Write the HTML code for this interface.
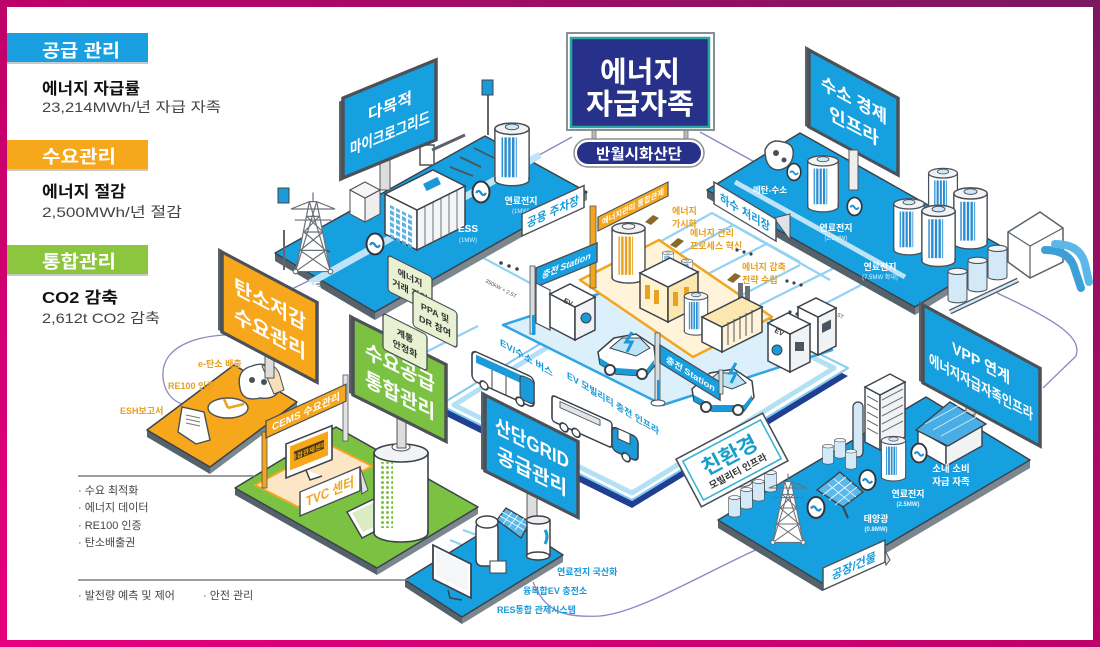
<!DOCTYPE html>
<html><head><meta charset="utf-8"><style>
html,body{margin:0;padding:0;width:1100px;height:647px;overflow:hidden;background:#fff}
svg{display:block}
text{font-family:"Liberation Sans","Noto Sans CJK KR",sans-serif}
</style></head><body>
<svg width="1100" height="647" viewBox="0 0 1100 647" xmlns="http://www.w3.org/2000/svg">
<defs>
<linearGradient id="fr" x1="0" y1="1" x2="1" y2="0">
<stop offset="0" stop-color="#e6007e"/><stop offset="0.45" stop-color="#c4006a"/><stop offset="1" stop-color="#7b1862"/>
</linearGradient>
<pattern id="sb" width="4" height="4" patternUnits="userSpaceOnUse"><rect width="2.6" height="4" fill="#2a8dd0"/></pattern>
<pattern id="sy" width="4" height="4" patternUnits="userSpaceOnUse"><rect width="2.6" height="4" fill="#e9a21e"/></pattern>
<pattern id="sg" width="5" height="5" patternUnits="userSpaceOnUse"><circle cx="2.5" cy="2.5" r="1.5" fill="#7cc242"/></pattern>
<pattern id="win" width="6" height="6" patternUnits="userSpaceOnUse"><rect width="4" height="4" fill="#4aa8dc"/></pattern>
<symbol id="tower" viewBox="0 0 50 90" overflow="visible">
<g fill="none" stroke="#6b7177" stroke-width="1.3">
<polygon points="6,88 21,12 29,12 44,88" fill="#fff"/>
<path d="M21,12 L44,88 M29,12 L6,88 M18,28 L32,28 M15,45 L36,45 M11,65 L39,65 M18,28 L36,45 M32,28 L15,45 M15,45 L39,65 M36,45 L11,65 M11,65 L44,88 M39,65 L6,88"/>
<path d="M1,20 L49,20 M5,32 L45,32 M1,20 L21,12 M49,20 L29,12 M25,2 L25,12"/>
<circle cx="6" cy="88" r="2.5" fill="#fff"/><circle cx="44" cy="88" r="2.5" fill="#fff"/>
</g></symbol>
<symbol id="tankB" viewBox="0 0 40 70" overflow="visible">
<rect x="2" y="9" width="36" height="54" fill="#fff" stroke="#4a5057" stroke-width="1.6"/>
<ellipse cx="20" cy="63" rx="18" ry="6" fill="#fff" stroke="#4a5057" stroke-width="1.6"/>
<rect x="3" y="10" width="34" height="53" fill="#fff"/>
<rect x="9" y="18" width="16" height="42" fill="url(#sb)"/>
<ellipse cx="20" cy="9" rx="18" ry="6" fill="#f1f3f4" stroke="#4a5057" stroke-width="1.6"/>
<ellipse cx="20" cy="7" rx="7" ry="3" fill="#cfe8f7" stroke="#4a5057"/>
</symbol>
<symbol id="tankY" viewBox="0 0 40 70" overflow="visible">
<rect x="2" y="9" width="36" height="54" fill="#fff" stroke="#4a5057" stroke-width="1.6"/>
<ellipse cx="20" cy="63" rx="18" ry="6" fill="#fff" stroke="#4a5057" stroke-width="1.6"/>
<rect x="3" y="10" width="34" height="53" fill="#fff"/>
<rect x="9" y="18" width="16" height="42" fill="url(#sy)"/>
<ellipse cx="20" cy="9" rx="18" ry="6" fill="#f1f3f4" stroke="#4a5057" stroke-width="1.6"/>
<ellipse cx="20" cy="7" rx="7" ry="3" fill="#f4f4f4" stroke="#4a5057"/>
</symbol>
<symbol id="tankL" viewBox="0 0 40 70" overflow="visible">
<rect x="2" y="9" width="36" height="54" fill="#d3e9f7" stroke="#4a5057" stroke-width="2"/>
<ellipse cx="20" cy="63" rx="18" ry="6" fill="#d3e9f7" stroke="#4a5057" stroke-width="2"/>
<rect x="3" y="10" width="34" height="53" fill="#d3e9f7"/>
<ellipse cx="20" cy="9" rx="18" ry="6" fill="#eef6fb" stroke="#4a5057" stroke-width="2"/>
</symbol>
<symbol id="conv" viewBox="0 0 20 24" overflow="visible">
<ellipse cx="10" cy="12" rx="8.5" ry="10.5" fill="#fff" stroke="#2f353b" stroke-width="2"/>
<path d="M5,13 q2.5,-4 5,0 t5,0" stroke="#1a8fd0" stroke-width="2.2" fill="none"/>
</symbol>
</defs>

<!-- frame -->
<rect width="1100" height="647" fill="url(#fr)"/>
<rect x="7" y="7" width="1086" height="633" fill="#fff"/>

<!-- purple connectors -->
<g fill="none" stroke="#8c86c4" stroke-width="1.3">
<path d="M262,336 C200,330 160,345 163,378 C165,395 175,402 183,404"/>
<path d="M530,160 L572,137"/>
<path d="M700,132 L760,165"/>
<path d="M997,293 C1060,322 1082,338 1076,356 L1043,388"/>
<path d="M533,582 C545,610 560,618 600,616 C640,612 700,575 760,548"/>
<path d="M290,290 L330,270"/>
</g>
<!-- light blue connectors -->
<g fill="none" stroke="#92d2f2" stroke-width="2.2">
<path d="M437,233 L530,283"/>
<path d="M463,530 L552,562"/>
<path d="M450,540 L535,575"/>
<path d="M420,355 L478,326"/>
<path d="M645,250 L712,213 L800,262"/>
<path d="M665,262 L733,225"/>
<path d="M700,278 L768,243"/>
<path d="M733,225 L830,280"/>
<path d="M742,295 L800,265"/>
<path d="M760,305 L860,255"/>
<path d="M790,322 L905,262"/>
<path d="M700,300 L800,355"/>
</g>

<!-- HUB -->
<polygon points="440,413 632,508 848,376 656,281" fill="#203f91"/>
<polygon points="440,405 632,500 848,368 656,273" fill="#fff" stroke="#7fcaf0" stroke-width="2" stroke-linejoin="round"/>
<polygon points="454,405 632,493 834,368 656,280" fill="none" stroke="#b3e0f5" stroke-width="5" stroke-linejoin="round"/>
<polygon points="503,325 663,405 832,350 672,270" fill="#dcf0fb" stroke="#2fa6e2" stroke-width="2.5" stroke-linejoin="round"/>
<polygon points="580,280 693,357 772,317 659,240" fill="#fff4da" stroke="#f2a51e" stroke-width="2.5" stroke-linejoin="round"/>

<!-- MICROGRID platform -->
<polygon points="275,253 375,312 375,320 275,261" fill="#56626b"/>
<polygon points="375,312 587,192 587,200 375,320" fill="#7b868e"/>
<polygon points="275,253 375,312 587,192 485,136" fill="#17a0e0" stroke="#3b4249" stroke-width="1.5" stroke-linejoin="round"/>
<path d="M310,283 L540,155" stroke="#bfe4f7" stroke-width="7"/>
<g stroke="#4a5560" stroke-width="1.8">
<path d="M303,250 L323,259"/><path d="M310,242 L330,252"/><path d="M450,167 L473,176"/><path d="M460,157 L481,167"/><path d="M474,148 L494,158"/>
</g>
<!-- small P signs -->
<rect x="283" y="230" width="2" height="40" fill="#666"/>
<rect x="278" y="188" width="11" height="15" fill="#1a9ad8" stroke="#444"/>
<rect x="487" y="95" width="2" height="40" fill="#666"/>
<rect x="482" y="80" width="11" height="15" fill="#1a9ad8" stroke="#444"/>
<!-- gate -->
<rect x="420" y="145" width="14" height="20" fill="#fff" stroke="#4a5057" stroke-width="1.5"/>
<path d="M432,150 L465,135" stroke="#5a6168" stroke-width="3"/>
<!-- microgrid sign -->
<rect x="380" y="160" width="10" height="30" fill="#ddd" stroke="#555"/>
<g transform="matrix(1 -0.41 0 1 343 98)">
<rect x="-4" y="2" width="4" height="80" fill="#5a6168"/>
<rect x="0" y="0" width="93" height="80" fill="#17a0e0" stroke="#4b5157" stroke-width="3.5"/>
<text x="47" y="33" font-size="16" font-weight="bold" fill="#fff" text-anchor="middle">다목적</text>
<text x="47" y="60" font-size="16" font-weight="bold" fill="#fff" text-anchor="middle" textLength="80" lengthAdjust="spacingAndGlyphs">마이크로그리드</text>
</g>
<!-- kiosk -->
<polygon points="350,190 365,198 365,222 350,214" fill="#fff" stroke="#4a5057"/>
<polygon points="365,198 380,190 380,214 365,222" fill="#eee" stroke="#4a5057"/>
<polygon points="350,190 365,182 380,190 365,198" fill="#f6f6f6" stroke="#4a5057"/>
<!-- ESS building -->
<polygon points="385,234 417,250 417,210 385,194" fill="#fff" stroke="#3b4249" stroke-width="1.5"/>
<rect x="389" y="205" width="24" height="34" fill="url(#win)" transform="matrix(1 0.5 0 1 0 0) translate(0 -195)" opacity="0.9"/>
<polygon points="417,250 465,226 465,186 417,210" fill="#f4f5f6" stroke="#3b4249" stroke-width="1.5"/>
<g stroke="#6b7177" stroke-width="1"><path d="M425,206 L425,245 M433,202 L433,241 M441,198 L441,237 M449,194 L449,233 M457,190 L457,229"/></g>
<polygon points="385,194 417,210 465,186 433,170" fill="#fff" stroke="#3b4249" stroke-width="1.5"/>
<rect x="424" y="180" width="16" height="8" fill="#1a9ad8" transform="rotate(-26 432 184)"/>
<!-- tower -->
<use href="#tower" x="290" y="188" width="46" height="88"/>
<use href="#conv" x="365" y="232" width="20" height="24"/>
<use href="#conv" x="471" y="180" width="20" height="24"/>
<use href="#tankB" x="493" y="120" width="38" height="67"/>
<text x="313" y="290" font-size="9" fill="#fff" text-anchor="middle" font-weight="bold">계통</text>
<text x="468" y="232" font-size="10" fill="#fff" text-anchor="middle" font-weight="bold">ESS</text>
<text x="468" y="242" font-size="6" fill="#e0f2fb" text-anchor="middle">(1MW)</text>
<text x="521" y="204" font-size="9" fill="#fff" text-anchor="middle" font-weight="bold">연료전지</text>
<text x="521" y="213" font-size="6" fill="#e0f2fb" text-anchor="middle">(1MW)</text>
<!-- 공용 주차장 tent -->
<g transform="matrix(1 -0.46 0 1 522 214)">
<rect x="0" y="0" width="62" height="22" fill="#fff" stroke="#4a5057" stroke-width="1.5"/>
<text x="31" y="16" font-size="12" font-weight="bold" fill="#1a9ad8" text-anchor="middle" textLength="52" lengthAdjust="spacingAndGlyphs">공용 주차장</text>
</g>

<!-- HYDROGEN platform -->
<polygon points="707,190 915,307 915,315 707,198" fill="#56626b"/>
<polygon points="915,307 1008,250 1008,258 915,315" fill="#7b868e"/>
<polygon points="707,190 915,307 1008,250 800,133" fill="#17a0e0" stroke="#3b4249" stroke-width="1.5" stroke-linejoin="round"/>
<path d="M735,182 L905,277" stroke="#bfe4f7" stroke-width="5"/>
<!-- hydrogen sign -->
<g transform="matrix(1 0.54 0 1 809 50)">
<rect x="-4" y="-2" width="4" height="80" fill="#5a6168"/>
<rect x="0" y="0" width="89" height="77" fill="#17a0e0" stroke="#4b5157" stroke-width="3.5"/>
<text x="45" y="32" font-size="18" font-weight="bold" fill="#fff" text-anchor="middle" textLength="66" lengthAdjust="spacingAndGlyphs">수소 경제</text>
<text x="45" y="58" font-size="18" font-weight="bold" fill="#fff" text-anchor="middle">인프라</text>
</g>
<rect x="849" y="150" width="9" height="40" fill="#eee" stroke="#555"/>
<!-- duck icon -->
<path d="M765,150 q5,-12 18,-8 q12,2 10,14 q-2,12 -14,14 q-14,0 -14,-20z" fill="#fff" stroke="#4a5057" stroke-width="1.5"/>
<circle cx="776" cy="153" r="3" fill="#4a5057"/><circle cx="784" cy="160" r="2.5" fill="#4a5057"/>
<use href="#conv" x="786" y="162" width="16" height="20"/>
<use href="#tankB" x="806" y="150" width="34" height="66"/>
<use href="#conv" x="846" y="196" width="17" height="21"/>
<!-- big tanks -->
<use href="#tankB" x="925" y="166" width="36" height="56"/>
<use href="#tankB" x="892" y="184" width="34" height="84"/>
<use href="#tankB" x="952" y="181" width="37" height="73"/>
<use href="#tankB" x="920" y="199" width="37" height="72"/>
<!-- small tanks rack -->
<path d="M950,312 L1018,280" stroke="#4a5057" stroke-width="5"/>
<path d="M950,312 L1018,280" stroke="#d3e9f7" stroke-width="2.5"/>
<use href="#tankL" x="987" y="237" width="21" height="50"/>
<use href="#tankL" x="967" y="249" width="21" height="50"/>
<use href="#tankL" x="947" y="260" width="21" height="50"/>
<!-- pipe box -->
<polygon points="1008,232 1040,212 1063,228 1063,262 1030,278 1008,262" fill="#fff" stroke="#5a6168" stroke-width="1.5"/>
<path d="M1008,232 L1030,246 L1063,228 M1030,246 L1030,278" stroke="#5a6168" fill="none" stroke-width="1.2"/>
<path d="M1045,250 q25,0 30,20 l6,18" stroke="#3c9fd8" stroke-width="8" fill="none" stroke-linecap="round"/>
<path d="M1055,244 q25,0 30,20 l4,18" stroke="#5cb8e8" stroke-width="8" fill="none" stroke-linecap="round"/>
<text x="770" y="193" font-size="8.5" fill="#fff" text-anchor="middle" font-weight="bold">메탄-수소</text>
<text x="836" y="231" font-size="9" fill="#fff" text-anchor="middle" font-weight="bold">연료전지</text>
<text x="836" y="240" font-size="6" fill="#e0f2fb" text-anchor="middle">(2.5MW)</text>
<text x="880" y="270" font-size="9" fill="#fff" text-anchor="middle" font-weight="bold">연료전지</text>
<text x="880" y="279" font-size="6" fill="#e0f2fb" text-anchor="middle">(7.5MW 확대)</text>
<!-- 하수 처리장 tent -->
<polygon points="774,218 790,214 790,240" fill="#dfe3e6" stroke="#4a5057"/>
<g transform="matrix(1 0.6 0 1 714 182)">
<rect x="0" y="0" width="62" height="22" fill="#fff" stroke="#4a5057" stroke-width="1.5"/>
<text x="31" y="16" font-size="12" font-weight="bold" fill="#1a9ad8" text-anchor="middle" textLength="50" lengthAdjust="spacingAndGlyphs">하수 처리장</text>
</g>

<!-- NAVY SIGN -->
<rect x="592" y="125" width="4" height="24" fill="#bbb" stroke="#777" stroke-width="0.8"/>
<rect x="684" y="125" width="4" height="24" fill="#bbb" stroke="#777" stroke-width="0.8"/>
<rect x="567" y="33" width="147" height="97" fill="#fff" stroke="#8a8f94" stroke-width="2"/>
<rect x="571" y="38" width="138" height="89" fill="#27318a" stroke="#2aa5a0" stroke-width="2.5"/>
<text x="640" y="82" font-size="29" font-weight="bold" fill="#fff" text-anchor="middle" textLength="80" lengthAdjust="spacingAndGlyphs">에너지</text>
<text x="640" y="114" font-size="29" font-weight="bold" fill="#fff" text-anchor="middle" textLength="108" lengthAdjust="spacingAndGlyphs">자급자족</text>
<rect x="574" y="139" width="130" height="28" rx="14" fill="#fff" stroke="#8a8f94" stroke-width="1.5"/>
<rect x="577" y="142" width="124" height="22" rx="11" fill="#27318a"/>
<text x="639" y="159" font-size="15" font-weight="bold" fill="#fff" text-anchor="middle" textLength="86" lengthAdjust="spacingAndGlyphs">반월시화산단</text>

<!-- center grid labels -->
<g font-size="9" font-weight="bold" fill="#e8a020">
<text x="672" y="214">에너지</text><text x="672" y="227">가시화</text>
<text x="690" y="236">에너지 관리</text><text x="690" y="249">프로세스 혁신</text>
<text x="742" y="270">에너지 감축</text><text x="742" y="283">전략 수립</text>
</g>
<g fill="#8a6a2a">
<path d="M645,222 l8,-7 l6,3 l-8,7z"/><path d="M670,245 l8,-7 l6,3 l-8,7z"/><path d="M727,280 l8,-7 l6,3 l-8,7z"/>
</g>
<g fill="#3b4249">
<circle cx="501" cy="263" r="1.8"/><circle cx="509" cy="266" r="1.8"/><circle cx="517" cy="269" r="1.8"/>
<circle cx="737" cy="250" r="1.6"/><circle cx="744" cy="252" r="1.6"/><circle cx="751" cy="254" r="1.6"/>
<circle cx="787" cy="281" r="1.6"/><circle cx="794" cy="283" r="1.6"/><circle cx="801" cy="285" r="1.6"/>
<circle cx="790" cy="312" r="1.6"/><circle cx="797" cy="314" r="1.6"/><circle cx="804" cy="316" r="1.6"/>
</g>
<text x="485" y="282" font-size="5.5" fill="#555" transform="rotate(28 485 282)">350kW + 2.5T</text>
<text x="812" y="303" font-size="5.5" fill="#555" transform="rotate(28 812 303)">550kW + 5.5T</text>

<!-- hub objects -->
<!-- orange banner + post -->
<rect x="590" y="206" width="6" height="82" fill="#f2a51e" stroke="#555" stroke-width="0.8"/>
<g transform="matrix(1 -0.5 0 1 598 217)">
<rect x="0" y="0" width="70" height="14" fill="#f6a71b" stroke="#4a5057" stroke-width="1.2"/>
<text x="35" y="10" font-size="8" font-weight="bold" fill="#fff" text-anchor="middle" textLength="62" lengthAdjust="spacingAndGlyphs">에너지관리 통합관제</text>
</g>
<use href="#tankY" x="610" y="220" width="37" height="64"/>
<!-- box units -->
<use href="#tankB" x="658" y="250" width="20" height="22"/>
<use href="#tankB" x="677" y="258" width="20" height="22"/>
<polygon points="640,308 668,322 668,287 640,273" fill="#fff3d2" stroke="#3b4249" stroke-width="1.5"/>
<polygon points="668,322 698,307 698,272 668,287" fill="#fde7b0" stroke="#3b4249" stroke-width="1.5"/>
<polygon points="640,273 668,287 698,272 670,258" fill="#fff" stroke="#3b4249" stroke-width="1.5"/>
<g fill="#e9a21e"><rect x="645" y="285" width="5" height="14"/><rect x="654" y="290" width="5" height="14"/><rect x="673" y="292" width="5" height="14"/><rect x="684" y="287" width="5" height="14"/></g>
<use href="#tankB" x="683" y="285" width="26" height="56"/>
<rect x="738" y="283" width="5" height="28" fill="#6b7177"/><rect x="745" y="286" width="5" height="28" fill="#6b7177"/>
<polygon points="702,342 722,352 722,327 702,317" fill="#fff" stroke="#3b4249" stroke-width="1.5"/>
<polygon points="722,352 762,332 762,307 722,327" fill="#fff4da" stroke="#3b4249" stroke-width="1.5"/>
<polygon points="702,317 722,327 762,307 742,297" fill="#fde7b0" stroke="#3b4249" stroke-width="1.5"/>
<g stroke="#555" stroke-width="1"><path d="M728,322 L728,345 M734,319 L734,342 M740,316 L740,339 M746,313 L746,336 M752,310 L752,333"/></g>
<!-- station 1 -->
<rect x="530" y="266" width="5" height="68" fill="#d8dde0" stroke="#4a5057" stroke-width="0.8"/>
<rect x="532" y="315" width="3" height="20" fill="#1a9ad8"/>
<g transform="matrix(1 -0.41 0 1 536 268)">
<rect x="0" y="0" width="61" height="19" fill="#17a0e0" stroke="#4a5057" stroke-width="1.5"/>
<text x="30" y="13" font-size="9" font-weight="bold" fill="#fff" text-anchor="middle" font-style="italic">충전 Station</text>
</g>
<polygon points="536,283 550,290 550,330 536,323" fill="#fff" stroke="#4a5057" stroke-width="1.2"/>
<polygon points="550,327 575,340 575,307 550,294" fill="#fff" stroke="#3b4249" stroke-width="1.5"/>
<polygon points="575,340 595,330 595,297 575,307" fill="#f0f2f3" stroke="#3b4249" stroke-width="1.5"/>
<polygon points="550,294 575,307 595,297 570,284" fill="#fff" stroke="#3b4249" stroke-width="1.5"/>
<circle cx="586" cy="318" r="5" fill="#1a9ad8" stroke="#3b4249"/>
<text x="563" y="302" font-size="7" font-weight="bold" fill="#333" transform="rotate(27 563 302)">EV</text>
<!-- car 1 -->
<g transform="translate(596,324)">
<path d="M2,28 L18,14 L40,10 L58,22 L60,40 L50,52 L20,50 L4,40 Z" fill="#fff" stroke="#3b4249" stroke-width="1.5"/>
<path d="M4,34 L20,44 L50,46 L58,36 L58,42 L50,52 L20,50 L4,40 Z" fill="#1a9ad8"/>
<path d="M14,24 L26,14 L44,14 L54,24 L40,32 Z" fill="#bfe3f7" stroke="#3b4249"/>
<path d="M36,8 l-6,10 l6,0 l-5,10" stroke="#1a9ad8" stroke-width="3" fill="none"/>
<circle cx="14" cy="46" r="5" fill="#fff" stroke="#3b4249" stroke-width="2"/>
<circle cx="46" cy="50" r="5" fill="#fff" stroke="#3b4249" stroke-width="2"/>
</g>
<!-- EV cubes right -->
<polygon points="798,345 818,355 818,317 798,307" fill="#fff" stroke="#3b4249" stroke-width="1.5"/>
<polygon points="818,355 836,346 836,308 818,317" fill="#f0f2f3" stroke="#3b4249" stroke-width="1.5"/>
<polygon points="798,307 818,317 836,308 816,298" fill="#fff" stroke="#3b4249" stroke-width="1.5"/>
<rect x="822" y="322" width="9" height="9" fill="#4a5560" transform="skewY(-26)" transform-origin="826 326"/>
<polygon points="768,361 790,372 790,334 768,323" fill="#fff" stroke="#3b4249" stroke-width="1.5"/>
<polygon points="790,372 810,362 810,324 790,334" fill="#f0f2f3" stroke="#3b4249" stroke-width="1.5"/>
<polygon points="768,323 790,334 810,324 788,313" fill="#fff" stroke="#3b4249" stroke-width="1.5"/>
<circle cx="777" cy="350" r="5" fill="#1a9ad8" stroke="#3b4249"/>
<rect x="795" y="342" width="9" height="9" fill="#4a5560"/>
<text x="774" y="332" font-size="7" font-weight="bold" fill="#333" transform="rotate(27 774 332)">EV</text>
<!-- station 2 -->
<rect x="655" y="333" width="5" height="70" fill="#d8dde0" stroke="#4a5057" stroke-width="0.8"/>
<rect x="657" y="380" width="3" height="22" fill="#1a9ad8"/>
<ellipse cx="658" cy="403" rx="7" ry="3" fill="#fff" stroke="#4a5057"/>
<!-- car 2 -->
<g transform="translate(690,357)">
<path d="M2,32 L20,16 L44,12 L62,24 L64,40 L54,54 L22,54 L4,44 Z" fill="#fff" stroke="#3b4249" stroke-width="1.5"/>
<path d="M4,38 L22,48 L54,48 L62,38 L62,44 L54,54 L22,54 L4,44 Z" fill="#1a9ad8"/>
<path d="M18,24 L28,16 L46,16 L56,26 L42,32 Z" fill="#bfe3f7" stroke="#3b4249"/>
<path d="M46,6 l-6,10 l6,0 l-5,10" stroke="#1a9ad8" stroke-width="3" fill="none"/>
<circle cx="16" cy="50" r="5" fill="#fff" stroke="#3b4249" stroke-width="2"/>
<circle cx="48" cy="53" r="5" fill="#fff" stroke="#3b4249" stroke-width="2"/>
</g>
<g transform="matrix(1 0.62 0 1 660 345)">
<rect x="0" y="0" width="60" height="18" fill="#17a0e0" stroke="#4a5057" stroke-width="1.5"/>
<text x="30" y="13" font-size="9" font-weight="bold" fill="#fff" text-anchor="middle" font-style="italic">충전 Station</text>
</g>
<rect x="719" y="370" width="4" height="24" fill="#d8dde0" stroke="#4a5057" stroke-width="0.8"/>
<!-- bus -->
<g transform="matrix(1 0.45 0 1 472 350)">
<rect x="0" y="0" width="62" height="30" rx="5" fill="#fff" stroke="#3b4249" stroke-width="1.6"/>
<rect x="4" y="3" width="54" height="8" fill="#1a9ad8"/>
<rect x="48" y="3" width="14" height="24" rx="4" fill="#1a9ad8" stroke="#3b4249"/>
<path d="M20,11 L20,30 M34,11 L34,30" stroke="#3b4249" stroke-width="1"/>
<circle cx="12" cy="30" r="4" fill="#fff" stroke="#3b4249" stroke-width="1.6"/>
<circle cx="48" cy="30" r="4" fill="#fff" stroke="#3b4249" stroke-width="1.6"/>
</g>
<text x="500" y="345" font-size="9.5" font-weight="bold" fill="#1a9ad8" transform="matrix(1 0.6 0 1 0 0) translate(0 -300)">EV/수소 버스</text>
<!-- truck -->
<g transform="matrix(1 0.45 0 1 552 395)">
<rect x="0" y="0" width="60" height="26" rx="3" fill="#fff" stroke="#3b4249" stroke-width="1.6"/>
<rect x="8" y="3" width="40" height="6" fill="#e0e4e7" stroke="#3b4249" stroke-width="0.8"/>
<rect x="60" y="4" width="26" height="24" rx="5" fill="#1a9ad8" stroke="#3b4249" stroke-width="1.6"/>
<rect x="66" y="4" width="12" height="10" fill="#fff" stroke="#3b4249"/>
<circle cx="12" cy="27" r="4" fill="#fff" stroke="#3b4249" stroke-width="1.6"/>
<circle cx="24" cy="27" r="4" fill="#fff" stroke="#3b4249" stroke-width="1.6"/>
<circle cx="74" cy="29" r="4" fill="#fff" stroke="#3b4249" stroke-width="1.6"/>
</g>
<g transform="matrix(1 0.62 0 1 567 378)">
<text x="0" y="0" font-size="9.5" font-weight="bold" fill="#1a9ad8" textLength="92" lengthAdjust="spacingAndGlyphs">EV 모빌리티 충전 인프라</text>
</g>

<!-- ORANGE platform -->
<polygon points="147,430 210,467 210,474 147,437" fill="#56626b"/>
<polygon points="210,467 297,402 297,409 210,474" fill="#7b868e"/>
<polygon points="147,430 210,467 297,402 234,365" fill="#f6a71b" stroke="#3b4249" stroke-width="1.5" stroke-linejoin="round"/>
<polygon points="178,432 182,407 204,412 210,440 196,444" fill="#fff" stroke="#4a5057" stroke-width="1.4"/>
<g stroke="#777" stroke-width="1"><path d="M186,415 L200,418 M186,419 L200,422 M186,423 L200,426"/></g>
<ellipse cx="228" cy="408" rx="20" ry="10" fill="#fff" stroke="#4a5057" stroke-width="1.4"/>
<path d="M228,408 L244,404 M228,408 L224,399" stroke="#e9a21e" stroke-width="2.5"/>
<path d="M240,388 q-4,-18 12,-22 q16,-6 22,8 q10,4 6,16 q-6,10 -20,8 q-18,4 -20,-10z" fill="#fff" stroke="#4a5057" stroke-width="1.4"/>
<path d="M262,366 q14,-4 18,10 l4,14 l-10,4z" fill="#f7dfb8" stroke="#4a5057"/>
<circle cx="252" cy="380" r="3" fill="#4a5057"/><circle cx="264" cy="382" r="3" fill="#4a5057"/>
<g font-size="9" font-weight="bold" fill="#e8a020">
<text x="198" y="367">e-탄소 배출</text>
<text x="168" y="389">RE100 인증</text>
<text x="120" y="414">ESH보고서</text>
</g>
<!-- orange sign -->
<rect x="265" y="350" width="9" height="28" fill="#ddd" stroke="#555"/>
<g transform="matrix(1 0.53 0 1 222 252)">
<rect x="-4" y="-2" width="4" height="82" fill="#5a6168"/>
<rect x="0" y="0" width="95" height="80" fill="#f6a71b" stroke="#4b5157" stroke-width="3.5"/>
<text x="48" y="34" font-size="20" font-weight="bold" fill="#fff" text-anchor="middle" textLength="72" lengthAdjust="spacingAndGlyphs">탄소저감</text>
<text x="48" y="63" font-size="20" font-weight="bold" fill="#fff" text-anchor="middle" textLength="72" lengthAdjust="spacingAndGlyphs">수요관리</text>
</g>

<!-- GREEN platform -->
<polygon points="235,488 377,568 377,575 235,495" fill="#56626b"/>
<polygon points="377,568 478,507 478,514 377,575" fill="#7b868e"/>
<polygon points="235,488 377,568 478,507 336,427" fill="#7cc242" stroke="#3b4249" stroke-width="1.5" stroke-linejoin="round"/>
<polygon points="255,485 330,445 372,466 298,507" fill="#fde6c6" stroke="#f2a51e" stroke-width="2"/>
<!-- CEMS -->
<rect x="262" y="432" width="5" height="56" fill="#f2a51e" stroke="#555" stroke-width="0.8"/>
<rect x="343" y="375" width="5" height="66" fill="#dfe3e6" stroke="#555" stroke-width="0.8"/>
<g transform="matrix(1 -0.46 0 1 266 421)">
<rect x="0" y="0" width="80" height="17" fill="#f6a71b" stroke="#4a5057" stroke-width="1.3"/>
<text x="40" y="12.5" font-size="10" font-weight="bold" fill="#fff" text-anchor="middle" textLength="68" lengthAdjust="spacingAndGlyphs">CEMS 수요관리</text>
</g>
<!-- monitor -->
<g transform="matrix(1 -0.4 0 1 286 444)">
<rect x="0" y="0" width="46" height="34" fill="#fff" stroke="#3b4249" stroke-width="1.6"/>
<rect x="4" y="4" width="38" height="24" fill="#f6a71b"/>
<rect x="8" y="11" width="30" height="9" fill="#4a3a10"/>
<text x="23" y="18.5" font-size="6.5" font-weight="bold" fill="#f6a71b" text-anchor="middle">통합관제센터</text>
</g>
<path d="M306,470 l4,10 l12,-4" stroke="#3b4249" stroke-width="1.5" fill="#fff"/>
<!-- TVC tent -->
<polygon points="360,467 368,490 362,494" fill="#dfe3e6" stroke="#4a5057"/>
<g transform="matrix(1 -0.42 0 1 300 492)">
<rect x="0" y="0" width="60" height="24" fill="#fff" stroke="#4a5057" stroke-width="1.5"/>
<text x="30" y="17" font-size="14" font-weight="bold" fill="#f2a51e" text-anchor="middle" textLength="48" lengthAdjust="spacingAndGlyphs">TVC 센터</text>
</g>
<!-- tablet -->
<polygon points="347,512 378,497 393,522 362,538" fill="#fff" stroke="#3b4249" stroke-width="1.5"/>
<polygon points="352,513 377,501 388,520 363,532" fill="#d9ecc2"/>
<!-- big cylinder -->
<rect x="374" y="453" width="54" height="80" fill="#fff" stroke="#3b4249" stroke-width="1.6"/>
<ellipse cx="401" cy="533" rx="27" ry="9" fill="#fff" stroke="#3b4249" stroke-width="1.6"/>
<rect x="375" y="454" width="52" height="79" fill="#fff"/>
<rect x="379" y="462" width="14" height="66" fill="url(#sg)"/>
<ellipse cx="401" cy="453" rx="27" ry="9" fill="#f1f3f4" stroke="#3b4249" stroke-width="1.6"/>
<ellipse cx="401" cy="447" rx="9" ry="4" fill="#fff" stroke="#3b4249"/>
<rect x="397" y="418" width="9" height="30" fill="#ddd" stroke="#555"/>
<!-- green sign -->
<g transform="matrix(1 0.5 0 1 353 318)">
<rect x="-4" y="-2" width="4" height="79" fill="#5a6168"/>
<rect x="0" y="0" width="93" height="77" fill="#7cc242" stroke="#4b5157" stroke-width="3.5"/>
<text x="47" y="33" font-size="20" font-weight="bold" fill="#fff" text-anchor="middle" textLength="70" lengthAdjust="spacingAndGlyphs">수요공급</text>
<text x="47" y="61" font-size="20" font-weight="bold" fill="#fff" text-anchor="middle" textLength="70" lengthAdjust="spacingAndGlyphs">통합관리</text>
</g>
<!-- tags -->
<g font-size="9" font-weight="bold" fill="#333" text-anchor="middle">
<g transform="matrix(1 0.5 0 1 388 255)">
<rect x="0" y="0" width="44" height="36" rx="3" fill="#e8f2d2" stroke="#4a5057" stroke-width="1.3"/>
<text x="22" y="15">에너지</text><text x="22" y="28">거래 지원</text>
</g>
<g transform="matrix(1 0.5 0 1 413 290)">
<rect x="0" y="0" width="44" height="36" rx="3" fill="#e8f2d2" stroke="#4a5057" stroke-width="1.3"/>
<text x="22" y="15">PPA 및</text><text x="22" y="28">DR 참여</text>
</g>
<g transform="matrix(1 0.5 0 1 383 313)">
<rect x="0" y="0" width="44" height="36" rx="3" fill="#e8f2d2" stroke="#4a5057" stroke-width="1.3"/>
<text x="22" y="15">계통</text><text x="22" y="28">안정화</text>
</g>
</g>

<!-- GRID platform -->
<polygon points="405,580 462,617 462,624 405,587" fill="#56626b"/>
<polygon points="462,617 563,555 563,562 462,624" fill="#7b868e"/>
<polygon points="405,580 462,617 563,555 506,518" fill="#17a0e0" stroke="#3b4249" stroke-width="1.5" stroke-linejoin="round"/>
<rect x="527" y="488" width="10" height="30" fill="#ddd" stroke="#555"/>
<g transform="matrix(1 0.5 0 1 485 395)">
<rect x="-4" y="-2" width="4" height="78" fill="#5a6168"/>
<rect x="0" y="0" width="93" height="76" fill="#17a0e0" stroke="#4b5157" stroke-width="3.5"/>
<text x="47" y="32" font-size="20" font-weight="bold" fill="#fff" text-anchor="middle" textLength="74" lengthAdjust="spacingAndGlyphs">산단GRID</text>
<text x="47" y="60" font-size="20" font-weight="bold" fill="#fff" text-anchor="middle" textLength="70" lengthAdjust="spacingAndGlyphs">공급관리</text>
</g>
<g transform="matrix(1 0.5 0 1 433 545)">
<rect x="0" y="0" width="38" height="34" fill="#fff" stroke="#3b4249" stroke-width="1.8"/>
<rect x="3" y="3" width="32" height="26" fill="#f4f6f7"/>
</g>
<path d="M448,590 l2,8 l12,2" stroke="#3b4249" stroke-width="1.5" fill="none"/>
<polygon points="497,520 506,508 530,522 521,538" fill="#5ab8ea" stroke="#3b4249" stroke-width="1.4"/>
<g stroke="#fff" stroke-width="0.8"><path d="M503,524 L512,512 M509,527 L518,515 M515,530 L524,518 M500,516 L524,530 M502,512 L527,526"/></g>
<rect x="476" y="522" width="22" height="44" rx="6" fill="#fff" stroke="#3b4249" stroke-width="1.5"/>
<ellipse cx="487" cy="522" rx="11" ry="6" fill="#fff" stroke="#3b4249" stroke-width="1.5"/>
<rect x="490" y="561" width="16" height="12" fill="#fff" stroke="#3b4249"/>
<rect x="527" y="520" width="23" height="36" fill="#fff" stroke="#3b4249" stroke-width="1.5"/>
<ellipse cx="538" cy="556" rx="11.5" ry="4" fill="#fff" stroke="#3b4249" stroke-width="1.5"/>
<ellipse cx="538" cy="520" rx="11.5" ry="4" fill="#eee" stroke="#3b4249" stroke-width="1.5"/>
<path d="M545,530 q4,6 0,14" stroke="#1a9ad8" stroke-width="3" fill="none"/>
<g font-size="9" font-weight="bold" fill="#1a9ad8">
<text x="557" y="575">연료전지 국산화</text>
<text x="523" y="594">융복합EV 충전소</text>
<text x="497" y="613">RES통합 관제시스템</text>
</g>

<!-- VPP platform -->
<polygon points="718,520 822,583 822,591 718,528" fill="#56626b"/>
<polygon points="822,583 1030,460 1030,468 822,591" fill="#7b868e"/>
<polygon points="718,520 822,583 1030,460 926,397" fill="#17a0e0" stroke="#3b4249" stroke-width="1.5" stroke-linejoin="round"/>
<!-- VPP sign -->
<rect x="966" y="385" width="9" height="30" fill="#ddd" stroke="#555"/>
<g transform="matrix(1 0.54 0 1 923 305)">
<rect x="-4" y="-2" width="4" height="80" fill="#5a6168"/>
<rect x="0" y="0" width="117" height="78" fill="#17a0e0" stroke="#4b5157" stroke-width="3.5"/>
<text x="58" y="32" font-size="16" font-weight="bold" fill="#fff" text-anchor="middle" textLength="58" lengthAdjust="spacingAndGlyphs">VPP 연계</text>
<text x="58" y="56" font-size="15" font-weight="bold" fill="#fff" text-anchor="middle" textLength="104" lengthAdjust="spacingAndGlyphs">에너지자급자족인프라</text>
</g>
<!-- house -->
<polygon points="918,430 946,446 946,466 918,450" fill="#fff" stroke="#3b4249" stroke-width="1.4"/>
<polygon points="946,446 982,426 982,446 946,466" fill="#f0f2f3" stroke="#3b4249" stroke-width="1.4"/>
<polygon points="916,430 950,402 986,424 948,446" fill="#4aaee6" stroke="#3b4249" stroke-width="1.4"/>
<g stroke="#d8effb" stroke-width="0.8"><path d="M925,424 L958,406 M933,430 L967,411 M941,436 L976,417"/></g>
<!-- building -->
<polygon points="865,442 880,450 880,395 865,387" fill="#fff" stroke="#3b4249" stroke-width="1.4"/>
<polygon points="880,450 905,437 905,382 880,395" fill="#f0f2f3" stroke="#3b4249" stroke-width="1.4"/>
<polygon points="865,387 880,395 905,382 890,374" fill="#fff" stroke="#3b4249" stroke-width="1.4"/>
<g stroke="#6b7177" stroke-width="1"><path d="M867,396 L878,402 M867,404 L878,410 M867,412 L878,418 M867,420 L878,426 M867,428 L878,434 M882,400 L903,389 M882,408 L903,397 M882,416 L903,405 M882,424 L903,413 M882,432 L903,421"/></g>
<rect x="853" y="402" width="10" height="55" rx="5" fill="#d3e9f7" stroke="#3b4249" stroke-width="1.3"/>
<use href="#tankL" x="822" y="440" width="12" height="28"/>
<use href="#tankL" x="834" y="434" width="12" height="28"/>
<use href="#tankL" x="845" y="446" width="12" height="26"/>
<use href="#tankB" x="880" y="432" width="27" height="52"/>
<use href="#conv" x="910" y="442" width="18" height="22"/>
<use href="#conv" x="858" y="468" width="19" height="24"/>
<polygon points="817,490 840,472 863,492 843,507" fill="#5ab8ea" stroke="#3b4249" stroke-width="1.4"/>
<g stroke="#fff" stroke-width="0.8"><path d="M823,495 L846,477 M829,500 L852,482 M835,505 L857,487 M828,484 L850,502 M834,479 L856,497"/></g>
<path d="M843,507 L848,518" stroke="#3b4249" stroke-width="2"/>
<use href="#conv" x="806" y="495" width="20" height="25"/>
<use href="#tankL" x="728" y="490" width="13" height="32"/>
<use href="#tankL" x="740" y="482" width="13" height="32"/>
<use href="#tankL" x="752" y="475" width="13" height="30"/>
<use href="#tankL" x="764" y="468" width="13" height="26"/>
<use href="#tower" x="768" y="463" width="40" height="90"/>
<g font-weight="bold" fill="#fff" text-anchor="middle">
<text x="951" y="472" font-size="9.5">소내 소비</text>
<text x="951" y="485" font-size="9.5">자급 자족</text>
<text x="908" y="497" font-size="9">연료전지</text>
<text x="908" y="506" font-size="6" fill="#e0f2fb">(2.5MW)</text>
<text x="876" y="522" font-size="9">태양광</text>
<text x="876" y="531" font-size="6" fill="#e0f2fb">(0.8MW)</text>
</g>
<!-- 공장/건물 tent -->
<polygon points="880,541 890,560 886,565" fill="#dfe3e6" stroke="#4a5057"/>
<g transform="matrix(1 -0.45 0 1 823 568)">
<rect x="0" y="0" width="62" height="22" fill="#fff" stroke="#4a5057" stroke-width="1.5"/>
<text x="31" y="16" font-size="12" font-weight="bold" fill="#1a9ad8" text-anchor="middle" textLength="44" lengthAdjust="spacingAndGlyphs">공장/건물</text>
</g>

<!-- 친환경 sign -->
<ellipse cx="740" cy="482" rx="12" ry="5" fill="#e8eaec" stroke="#4a5057"/>
<rect x="735" y="465" width="10" height="18" fill="#fff" stroke="#4a5057"/>
<g transform="translate(732,460) rotate(-28)">
<rect x="-49" y="-27" width="98" height="54" fill="#fff" stroke="#4a5057" stroke-width="1.6"/>
<rect x="-44" y="-22" width="88" height="44" fill="#fff" stroke="#3bb3d6" stroke-width="1.6"/>
<text x="0" y="2" font-size="21" font-weight="bold" fill="#1aa0c8" text-anchor="middle" textLength="60" lengthAdjust="spacingAndGlyphs">친환경</text>
<text x="0" y="16" font-size="9.5" font-weight="bold" fill="#333" text-anchor="middle">모빌리티 인프라</text>
</g>

<!-- LEGEND -->
<rect x="7" y="33" width="141" height="30" fill="#1aa0e0"/>
<rect x="7" y="62" width="141" height="2" fill="#c6c9cc"/>
<text x="42" y="57" font-size="18" font-weight="bold" fill="#fff" textLength="78" lengthAdjust="spacingAndGlyphs">공급 관리</text>
<text x="42" y="94" font-size="16" font-weight="bold" fill="#111" textLength="98" lengthAdjust="spacingAndGlyphs">에너지 자급률</text>
<text x="42" y="112" font-size="14" fill="#444" textLength="179" lengthAdjust="spacingAndGlyphs">23,214MWh/년 자급 자족</text>
<rect x="7" y="140" width="141" height="30" fill="#f6a71b"/>
<rect x="7" y="169" width="141" height="2" fill="#c6c9cc"/>
<text x="42" y="163" font-size="18" font-weight="bold" fill="#fff" textLength="74" lengthAdjust="spacingAndGlyphs">수요관리</text>
<text x="42" y="197" font-size="16" font-weight="bold" fill="#111" textLength="84" lengthAdjust="spacingAndGlyphs">에너지 절감</text>
<text x="42" y="217" font-size="14" fill="#444" textLength="140" lengthAdjust="spacingAndGlyphs">2,500MWh/년 절감</text>
<rect x="7" y="245" width="141" height="30" fill="#8cc63f"/>
<rect x="7" y="274" width="141" height="2" fill="#c6c9cc"/>
<text x="42" y="268" font-size="18" font-weight="bold" fill="#fff" textLength="74" lengthAdjust="spacingAndGlyphs">통합관리</text>
<text x="42" y="303" font-size="16" font-weight="bold" fill="#111" textLength="76" lengthAdjust="spacingAndGlyphs">CO2 감축</text>
<text x="42" y="323" font-size="14" fill="#444" textLength="118" lengthAdjust="spacingAndGlyphs">2,612t CO2 감축</text>

<!-- bullets -->
<path d="M78,476 L255,476" stroke="#7a7f84" stroke-width="1.5"/>
<path d="M78,580 L410,580" stroke="#7a7f84" stroke-width="1.5"/>
<g font-size="11" fill="#444">
<text x="78" y="494">· 수요 최적화</text>
<text x="78" y="511">· 에너지 데이터</text>
<text x="78" y="529">· RE100 인증</text>
<text x="78" y="546">· 탄소배출권</text>
<text x="78" y="599">· 발전량 예측 및 제어</text>
<text x="203" y="599">· 안전 관리</text>
</g>
</svg>
</body></html>
